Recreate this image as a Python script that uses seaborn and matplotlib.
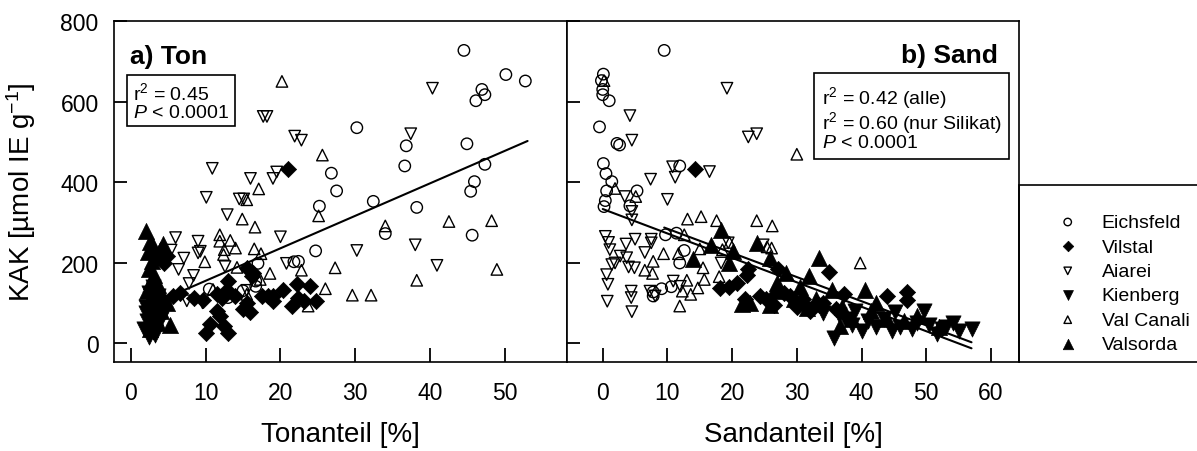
import numpy as np
import pandas as pd
import matplotlib
matplotlib.use("Agg")
import matplotlib.pyplot as plt
import seaborn as sns
from matplotlib.patches import Rectangle

# ---------------- data ----------------
groups = ["Eichsfeld", "Vilstal", "Aiarei", "Kienberg", "Val Canali", "Valsorda"]

# panel a) Ton  (x = Tonanteil %, y = KAK)
ton_eichsfeld_x = [44.5, 50.1, 52.7, 46.9, 47.3, 46.1, 30.2, 36.8, 44.9, 36.6, 47.3, 26.8, 27.5, 45.9, 45.4,
                   32.4, 25.2, 38.2, 34.0, 45.6, 24.7, 21.8, 22.4, 17.0, 10.5, 16.7, 16.7, 15.0, 13.0]
ton_eichsfeld_y = [727, 667, 651, 630, 617, 602, 535, 490, 495, 440, 444, 422, 378, 401, 377,
                   352, 340, 337, 272, 268, 229, 202, 203, 198, 134, 141, 154, 130, 113]
ton_vilstal_x = [21.0, 15.5, 16.4, 13.0, 12.8, 12.2, 13.9, 11.5, 8.4, 6.6, 5.7, 9.7, 10.6, 10.1, 11.9, 12.4,
                 13.0, 11.5, 15.0, 15.5, 15.9, 17.5, 18.4, 19.0, 20.4, 19.0, 22.2, 23.9, 22.4, 21.5, 23.1,
                 24.8, 4.8, 4.4, 16.2]
ton_vilstal_y = [432, 187, 175, 154, 133, 113, 117, 121, 113, 125, 118, 107, 47, 26, 67, 43,
                 26, 80, 84, 100, 76, 117, 117, 118, 133, 104, 146, 141, 113, 92, 104,
                 104, 216, 199, 166]
ton_aiarei_x = [40.3, 17.7, 18.2, 37.4, 21.9, 22.8, 10.9, 16.0, 19.0, 19.5, 10.1, 14.5, 15.1, 12.9, 20.0, 6.0,
                9.0, 9.3, 5.4, 7.1, 9.0, 6.4, 8.4, 12.6, 20.8, 7.8, 7.5, 9.6, 15.5, 30.2, 38.0, 40.9]
ton_aiarei_y = [633, 563, 563, 520, 514, 504, 434, 409, 409, 425, 362, 358, 358, 319, 264, 262,
                253, 228, 231, 211, 224, 183, 168, 190, 198, 148, 105, 100, 131, 230, 244, 193]
ton_kienberg_x = [2.5, 1.8, 3.0, 2.2, 3.5, 2.8, 4.0, 2.0, 3.2, 2.6, 3.8, 2.4, 3.0, 4.5, 2.9, 3.3, 2.1, 3.6]
ton_kienberg_y = [15, 35, 28, 55, 45, 70, 60, 90, 85, 110, 100, 125, 140, 80, 40, 20, 75, 118]
ton_valcanali_x = [20.2, 25.6, 17.1, 15.5, 14.9, 16.6, 25.1, 34.0, 42.5, 48.2, 11.9, 11.9, 13.3, 14.0, 12.5,
                   12.4, 16.5, 17.4, 9.9, 14.2, 27.3, 22.8, 18.6, 38.2, 26.0, 29.6, 32.1, 48.9, 23.7, 15.5,
                   17.3, 11.0]
ton_valcanali_y = [650, 467, 383, 356, 308, 288, 316, 291, 302, 304, 269, 253, 255, 236, 232,
                   220, 234, 222, 202, 188, 187, 181, 173, 156, 135, 119, 119, 183, 92, 121,
                   158, 133]
ton_valsorda_x = [2.1, 2.6, 3.0, 2.3, 3.4, 2.8, 3.9, 4.3, 2.5, 3.1, 2.7, 3.6, 2.2, 4.8, 3.3, 2.9, 4.1, 2.4,
                  3.7, 5.2, 2.6, 3.2, 4.5]
ton_valsorda_y = [278, 250, 240, 225, 215, 205, 230, 245, 185, 170, 155, 145, 130, 100, 120, 95, 80, 60,
                  50, 45, 35, 65, 110]

# panel b) Sand  (x = Sandanteil %, y = KAK)
sand_eichsfeld_x = [9.5, 0.1, -0.2, 0.0, 0.0, 1.0, -0.5, 2.2, 2.6, 0.1, 0.5, 1.4, 5.3, 0.6, 0.4, 0.2, 4.2,
                    11.9, 9.7, 11.4, 12.6, 11.9, 7.8, 7.8, 9.1, 10.6]
sand_eichsfeld_y = [727, 668, 652, 630, 617, 602, 537, 496, 492, 446, 421, 401, 378, 378, 354, 339, 341,
                    440, 269, 273, 230, 199, 117, 127, 135, 140]
sand_vilstal_x = [14.2, 18.1, 20.7, 22.5, 22.3, 27.1, 35.0, 37.3, 43.9, 47.1, 47.1, 24.3, 25.3, 29.0, 31.0,
                  33.5, 26.5, 30.0, 28.0, 32.0, 34.0, 36.0, 22.0, 19.5]
sand_vilstal_y = [432, 137, 150, 183, 170, 183, 176, 121, 116, 128, 108, 117, 109, 117, 110,
                  95, 95, 90, 125, 80, 100, 85, 110, 140]
sand_aiarei_x = [19.2, 4.2, 4.5, 22.5, 23.8, 16.5, 10.8, 11.2, 7.4, 10.0, 3.4, 4.5, 4.5, 0.4, 0.9, 1.1, 3.6,
                 5.0, 7.5, 7.5, 6.5, 2.7, 3.7, 1.9, 1.4, 4.0, 4.9, 0.6, 0.8, 0.7, 4.4, 4.4, 4.5, 7.3, 8.1,
                 10.9, 12.0, 18.3, 19.4, 24.8]
sand_aiarei_y = [633, 565, 504, 512, 520, 426, 438, 412, 407, 357, 364, 327, 306, 265, 250, 232, 246,
                 258, 258, 249, 225, 216, 212, 199, 195, 189, 187, 170, 146, 104, 129, 113, 78, 129, 117,
                 154, 141, 199, 249, 244]
sand_kienberg_x = [35.8, 40.0, 49.7, 45.2, 54.2, 57.0, 51.6, 55.1, 44.7, 42.3, 47.8, 36.5, 38.5, 41.0, 43.5,
                   46.0, 48.5, 50.5, 52.5, 30.0, 32.0, 34.0, 37.5, 39.0, 53.0]
sand_kienberg_y = [12, 30, 80, 76, 49, 35, 22, 30, 30, 40, 35, 70, 45, 55, 60,
                   40, 50, 45, 35, 95, 85, 75, 60, 80, 40]
sand_valcanali_x = [30.0, 0.2, 1.9, 5.1, 13.1, 15.2, 17.6, 23.8, 26.2, 12.6, 19.6, 9.4, 11.7, 7.8, 15.0,
                    15.5, 6.5, 7.7, 13.0, 15.7, 18.0, 12.3, 13.6, 14.7, 11.9, 25.4, 26.1, 18.5, 39.8]
sand_valcanali_y = [469, 652, 384, 364, 308, 314, 304, 304, 291, 269, 250, 222, 222, 203, 234,
                    187, 181, 173, 156, 158, 165, 129, 121, 137, 92, 239, 236, 232, 199]
sand_valsorda_x = [18.3, 16.8, 20.2, 14.0, 23.8, 25.9, 33.5, 31.9, 28.4, 40.6, 42.3, 21.5, 22.8, 25.9, 31.5,
                   29.5, 35.4, 38.5, 36.7, 41.5, 48.5, 30.5, 27.0, 33.0, 37.0, 44.0, 46.5, 52.0, 26.5, 19.5]
sand_valsorda_y = [281, 244, 228, 209, 249, 212, 212, 166, 175, 133, 100, 96, 100, 94, 88,
                   109, 133, 59, 43, 80, 67, 140, 150, 110, 90, 60, 55, 40, 130, 200]

# regression lines (end points)
ton_fit_x = [2.0, 53.0]
ton_fit_y = [90, 502]
sand_fit_all_x = [0.0, 57.0]
sand_fit_all_y = [333, -13]
sand_fit_sil_x = [9.5, 57.0]
sand_fit_sil_y = [287, 2]

ton_xticks = [0, 10, 20, 30, 40, 50]
sand_xticks = [0, 10, 20, 30, 40, 50, 60]
kak_yticks = [0, 200, 400, 600, 800]

# ---------------- build tables ----------------
def make_df(pairs):
    rows = []
    for g, (xs, ys) in zip(groups, pairs):
        rows.append(pd.DataFrame({"x": xs, "y": ys, "group": g}))
    return pd.concat(rows, ignore_index=True)

df_ton = make_df([(ton_eichsfeld_x, ton_eichsfeld_y), (ton_vilstal_x, ton_vilstal_y),
                  (ton_aiarei_x, ton_aiarei_y), (ton_kienberg_x, ton_kienberg_y),
                  (ton_valcanali_x, ton_valcanali_y), (ton_valsorda_x, ton_valsorda_y)])
df_sand = make_df([(sand_eichsfeld_x, sand_eichsfeld_y), (sand_vilstal_x, sand_vilstal_y),
                   (sand_aiarei_x, sand_aiarei_y), (sand_kienberg_x, sand_kienberg_y),
                   (sand_valcanali_x, sand_valcanali_y), (sand_valsorda_x, sand_valsorda_y)])

# ---------------- style ----------------
sns.set_style("ticks")
plt.rcParams['font.family'] = ['Liberation Sans', 'DejaVu Sans']
plt.rcParams['mathtext.fontset'] = 'custom'
plt.rcParams['mathtext.rm'] = 'Liberation Sans'
plt.rcParams['mathtext.it'] = 'Liberation Sans:italic'
plt.rcParams['mathtext.bf'] = 'Liberation Sans:bold'
for k in ['text.color', 'axes.labelcolor', 'xtick.color', 'ytick.color', 'axes.edgecolor']:
    plt.rcParams[k] = 'black'

markers = {"Eichsfeld": "o", "Vilstal": "D", "Aiarei": "v", "Kienberg": "v",
           "Val Canali": "^", "Valsorda": "^"}
filled = {"Eichsfeld": False, "Vilstal": True, "Aiarei": False, "Kienberg": True,
          "Val Canali": False, "Valsorda": True}
sizes = {"Eichsfeld": 68, "Vilstal": 68, "Aiarei": 68, "Kienberg": 120,
         "Val Canali": 68, "Valsorda": 135}
draw_order = ["Eichsfeld", "Aiarei", "Val Canali", "Vilstal", "Kienberg", "Valsorda"]

fig = plt.figure(figsize=(11.97, 4.52), dpi=100)
axA = fig.add_axes([0.0952, 0.1969, 0.3784, 0.7544])
axB = fig.add_axes([0.4737, 0.1969, 0.3776, 0.7544])


def draw_points(ax, df):
    for g in draw_order:
        sub = df[df["group"] == g]
        kw = dict(marker=markers[g], s=sizes[g], edgecolor="black", label=g,
                  legend=False, zorder=3)
        if filled[g]:
            kw["color"] = "black"
            kw["linewidth"] = 0.5
        else:
            kw["facecolor"] = "none"
            kw["linewidth"] = 1.0
        sns.scatterplot(data=sub, x="x", y="y", ax=ax, **kw)


draw_points(axA, df_ton)
draw_points(axB, df_sand)

line_kw = dict(color="black", linewidth=1.5, estimator=None, sort=False, legend=False, zorder=4)
sns.lineplot(x=ton_fit_x, y=ton_fit_y, ax=axA, **line_kw)
sns.lineplot(x=sand_fit_all_x, y=sand_fit_all_y, ax=axB, **line_kw)
sns.lineplot(x=sand_fit_sil_x, y=sand_fit_sil_y, ax=axB, **line_kw)

for ax in (axA, axB):
    ax.set_ylim(-47, 795)
    ax.set_yticks(kak_yticks)
    for s in ax.spines.values():
        s.set_visible(True)
        s.set_linewidth(1.2)
        s.set_color("black")
    ax.tick_params(axis="y", left=True, direction="in", length=9, width=1.3, labelsize=16.5, pad=11,
                   colors="black")
    ax.tick_params(axis="x", bottom=True, direction="in", length=10, width=1.3, labelsize=16.5, pad=14,
                   colors="black")

axA.set_xlim(-2.23, 58.25)
axA.set_xticks(ton_xticks)
axB.set_xlim(-5.52, 64.34)
axB.set_xticks(sand_xticks)
axB.tick_params(axis="y", labelleft=False)

axA.set_xlabel("Tonanteil [%]", fontsize=20, labelpad=12)
axB.set_xlabel("Sandanteil [%]", fontsize=20, labelpad=12)
axA.set_ylabel("KAK [µmol IE g$^{-1}$]", fontsize=20, labelpad=16)
axB.set_ylabel("")

# panel titles
axA.text(0.035, 0.877, "a) Ton", transform=axA.transAxes, fontsize=19, fontweight="bold",
         ha="left", va="baseline")
axB.text(0.954, 0.880, "b) Sand", transform=axB.transAxes, fontsize=19, fontweight="bold",
         ha="right", va="baseline")

# statistics boxes
box = dict(boxstyle="square,pad=0.3", facecolor="white", edgecolor="black", linewidth=1.2)
axA.text(0.042, 0.824, "r$^2$ = 0.45\n$\\mathit{P}$ < 0.0001", transform=axA.transAxes,
         fontsize=14, ha="left", va="top", linespacing=1.05, bbox=box, zorder=5)
axB.text(0.564, 0.815,
         "r$^2$ = 0.42 (alle)\nr$^2$ = 0.60 (nur Silikat)\n$\\mathit{P}$ < 0.0001",
         transform=axB.transAxes, fontsize=14, ha="left", va="top", linespacing=0.95,
         bbox=dict(boxstyle="square,pad=0.4", facecolor="white", edgecolor="black", linewidth=1.2),
         zorder=5)

# legend
h, l = axA.get_legend_handles_labels()
hmap = dict(zip(l, h))
leg = fig.legend([hmap[g] for g in groups], groups, loc="upper left",
                 bbox_to_anchor=(1040.5 / 1197, 1 - 197 / 452), frameon=False,
                 fontsize=14, markerscale=0.65, handlelength=1.0, handletextpad=1.25,
                 labelspacing=0.35, borderpad=0.4)
fig.patches.append(Rectangle((1019 / 1197, 1 - 363 / 452), 181 / 1197, 177 / 452,
                             transform=fig.transFigure, fill=False, edgecolor="black",
                             linewidth=1.2))

fig.savefig("out.png", dpi=100)
